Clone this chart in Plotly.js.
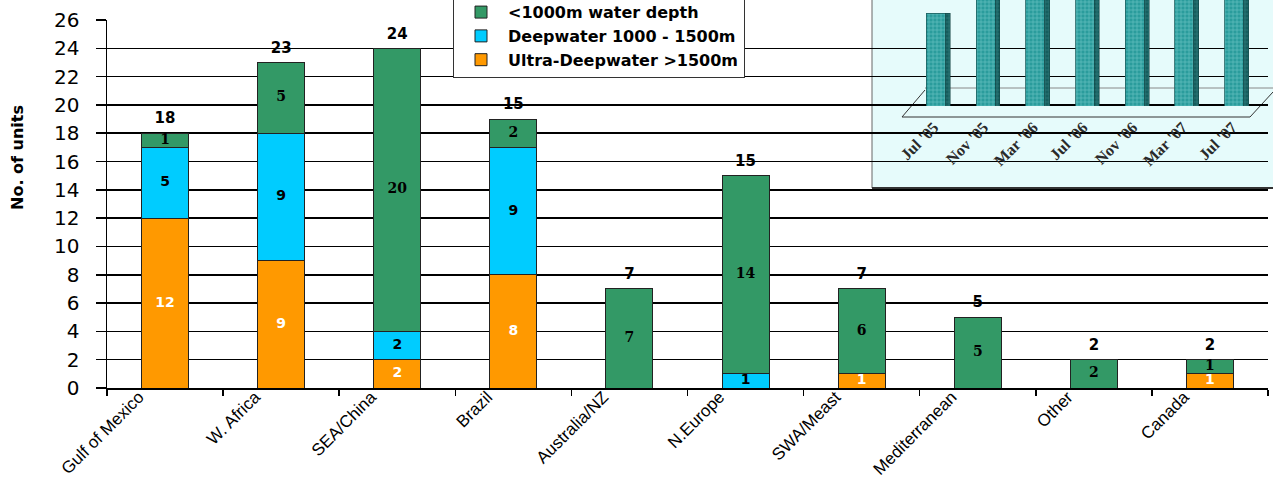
<!DOCTYPE html>
<html>
<head>
<meta charset="utf-8">
<script src="https://cdn.plot.ly/plotly-3.0.1.min.js"></script>
<style>html,body{margin:0;padding:0;background:#fff;}#chart{width:1273px;height:483px;}</style>
</head>
<body>
<div id="chart"></div>
<script>
// ---- data ----
var categories = ['Gulf of Mexico','W. Africa','SEA/China','Brazil','Australia/NZ','N.Europe','SWA/Meast','Mediterranean','Other','Canada'];
var ultraDeep = [12, 9, 2, 8, 0, 0, 1, 0, 0, 1];
var deepwater = [5, 9, 2, 9, 0, 1, 0, 0, 0, 0];
var shallow   = [1, 5, 20, 2, 7, 14, 6, 5, 2, 1];
var totalLabels = ['18','23','24','15','7','15','7','5','2','2'];
var seriesNames = ['Ultra-Deepwater >1500m','Deepwater 1000 - 1500m','<1000m water depth'];

var insetCats = ["Jul '05","Nov '05","Mar '06","Jul '06","Nov '06","Mar '07","Jul '07"];
var insetValues = [35, 46, 48, 50, 52, 54, 56];

// ---- layout helpers (pixel -> paper) ----
var W = 1273, H = 483, ML = 107, MR = 5, MT = 0, MB = 95;
var PW = W - ML - MR, PH = H - MT - MB;
function px(x){ return (x - ML) / PW; }
function py(y){ return (H - MB - y) / PH; }

function lbl(arr){ return arr.map(function(v){ return v ? String(v) : ''; }); }
var stackTop = categories.map(function(c,i){ return ultraDeep[i] + deepwater[i] + shallow[i]; });
var midUltra = ultraDeep.map(function(v){ return v / 2; });
var midDeep = deepwater.map(function(v,i){ return ultraDeep[i] + v / 2; });
var midShallow = shallow.map(function(v,i){ return ultraDeep[i] + deepwater[i] + v / 2; });

function segLabels(mid, vals, font){
  return {type:'scatter', mode:'text', x:categories, y:mid, text:lbl(vals),
          textposition:'middle center', cliponaxis:false, showlegend:false,
          textfont:font, hoverinfo:'skip'};
}

var traces = [
  {type:'bar', name:seriesNames[0], x:categories, y:ultraDeep, textposition:'none',
   marker:{color:'#FF9900', line:{color:'#222', width:1}}, hoverinfo:'skip'},
  {type:'bar', name:seriesNames[1], x:categories, y:deepwater, textposition:'none',
   marker:{color:'#00CCFF', line:{color:'#222', width:1}}, hoverinfo:'skip'},
  {type:'bar', name:seriesNames[2], x:categories, y:shallow, textposition:'none',
   marker:{color:'#339966', line:{color:'#222', width:1}}, hoverinfo:'skip'},
  segLabels(midUltra, ultraDeep, {family:'DejaVu Sans', size:14, weight:'bold', color:'#ffffff'}),
  segLabels(midDeep, deepwater, {family:'DejaVu Sans', size:14, weight:'bold', color:'#000000'}),
  segLabels(midShallow, shallow, {family:'DejaVu Serif', size:14, weight:'bold', color:'#000000'}),
  {type:'scatter', mode:'markers+text', x:categories, y:stackTop, text:totalLabels,
   textposition:'top center', cliponaxis:false, showlegend:false,
   marker:{size:8, color:'rgba(0,0,0,0)'},
   textfont:{family:'DejaVu Sans', size:15, weight:'bold', color:'#000'}, hoverinfo:'skip'},
  // inset front faces
  {type:'bar', x:insetCats, y:insetValues, xaxis:'x2', yaxis:'y2', showlegend:false,
   width:0.38, offset:-0.19,
   marker:{color:'#2a9c9c', line:{color:'#1d5f5f', width:0.8},
           pattern:{shape:'+', fillmode:'overlay', fgcolor:'#a6e6e6', size:4, solidity:0.3}},
   hoverinfo:'skip'},
  // inset side faces (3-D depth)
  {type:'bar', x:insetCats, y:insetValues, xaxis:'x2', yaxis:'y3', showlegend:false,
   width:0.1, offset:0.19,
   marker:{color:'#155e5e', line:{color:'#0f3f3f', width:0.5},
           pattern:{shape:'+', fillmode:'overlay', fgcolor:'#4b9a9a', size:4, solidity:0.3}},
   hoverinfo:'skip'}
];

var layout = {
  width:W, height:H,
  margin:{l:ML, r:MR, t:MT, b:MB, pad:0, autoexpand:false},
  paper_bgcolor:'#ffffff', plot_bgcolor:'rgba(0,0,0,0)',
  barmode:'stack', bargap:0.595,
  showlegend:true,
  legend:{x:px(453), y:1.015, xanchor:'left', yanchor:'top',
          bgcolor:'#ffffff', bordercolor:'#333', borderwidth:1,
          font:{family:'DejaVu Sans', size:16, weight:'bold', color:'#000'},
          tracegroupgap:0, itemwidth:44},
  xaxis:{domain:[0,1], type:'category', range:[-0.5, categories.length - 0.5],
         showgrid:false, zeroline:false, automargin:false,
         showline:true, linecolor:'#000', linewidth:1.5,
         ticks:'outside', tickson:'boundaries', ticklen:6, tickcolor:'#000', tickwidth:1.5,
         tickangle:-45, ticklabelshift:-26, ticklabelstandoff:-9,
         tickfont:{family:'Liberation Sans', size:17, color:'#000'}},
  yaxis:{domain:[0, py(20)], range:[0,26], dtick:2, tick0:0, automargin:false,
         showgrid:true, gridcolor:'#000', gridwidth:1.5, zeroline:false,
         showline:true, linecolor:'#000', linewidth:1.5,
         ticks:'outside', ticklen:10, tickcolor:'#000', tickwidth:1.5,
         ticklabelstandoff:12,
         tickfont:{family:'DejaVu Sans', size:20, color:'#000'}},
  xaxis2:{domain:[px(911), px(1259)], anchor:'y2', type:'category', automargin:false,
          range:[-0.5, insetCats.length - 0.5],
          showgrid:false, zeroline:false, showline:false, ticks:'',
          tickangle:-45, ticklabelstandoff:8, ticklabelshift:-2,
          tickfont:{family:'Liberation Serif', size:16, weight:'bold', color:'#2a2a2a'},
          fixedrange:true},
  yaxis2:{domain:[py(106), 1], anchor:'x2', range:[0,40], visible:false, fixedrange:true},
  yaxis3:{overlaying:'y2', anchor:'x2', range:[0,40], visible:false, fixedrange:true},
  shapes:[
    {type:'rect', xref:'paper', yref:'paper', layer:'below',
     x0:px(872), x1:px(1280), y0:py(188), y1:py(-5),
     fillcolor:'#e6fbfb', line:{width:0}},
    {type:'line', xref:'paper', yref:'paper', layer:'below',
     x0:px(872), x1:px(872), y0:py(188), y1:py(-5), line:{color:'#666', width:1}},
    {type:'line', xref:'paper', yref:'paper', layer:'below',
     x0:px(872), x1:px(1280), y0:py(188), y1:py(188), line:{color:'#333', width:2}},
    {type:'line', xref:'paper', yref:'paper', layer:'below',
     x0:px(902), x1:px(1250), y0:py(117), y1:py(117), line:{color:'#333', width:1}},
    {type:'line', xref:'paper', yref:'paper', layer:'below',
     x0:px(902), x1:px(925), y0:py(117), y1:py(90), line:{color:'#333', width:1}},
    {type:'line', xref:'paper', yref:'paper', layer:'below',
     x0:px(1250), x1:px(1273), y0:py(117), y1:py(92), line:{color:'#333', width:1}},
    {type:'line', xref:'paper', yref:'paper', layer:'below',
     x0:px(925), x1:px(1280), y0:py(88), y1:py(88), line:{color:'#888', width:1}}
  ],
  annotations:[
    {text:'No. of units', xref:'paper', yref:'paper', x:px(17), y:py(158),
     xanchor:'center', yanchor:'middle', textangle:-90, showarrow:false,
     font:{family:'DejaVu Sans', size:16, weight:'bold', color:'#000'}}
  ]
};

Plotly.newPlot('chart', traces, layout, {displayModeBar:false, staticPlot:true});
</script>
</body>
</html>
